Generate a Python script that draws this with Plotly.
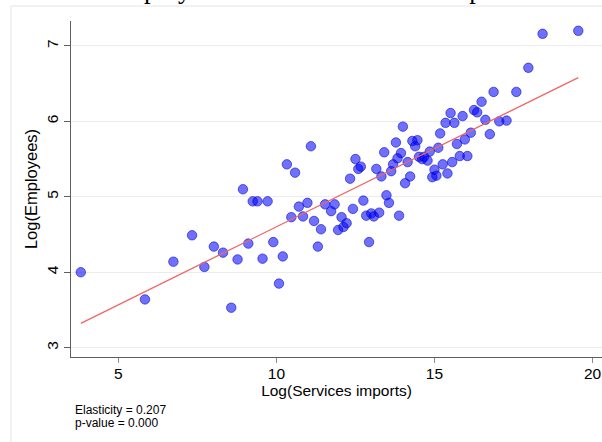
import plotly.graph_objects as go
import numpy as np

# Data
services_imports = [3.81, 5.84, 6.74, 7.33, 7.72, 8.02, 8.31, 8.57, 8.77, 8.94,
                    9.11, 9.25, 9.40, 9.56, 9.72, 9.90, 10.08, 10.20, 10.33, 10.47,
                    10.59, 10.71, 10.84, 10.98, 11.09, 11.19, 11.31, 11.41, 11.54, 11.73,
                    11.84, 11.95, 12.06, 12.12, 12.22, 12.33, 12.42, 12.50, 12.59, 12.67,
                    12.75, 12.84, 12.93, 13.00, 13.08, 13.16, 13.25, 13.32, 13.41, 13.48,
                    13.56, 13.63, 13.69, 13.78, 13.83, 13.88, 13.94, 14.00, 14.07, 14.15,
                    14.23, 14.30, 14.39, 14.46, 14.51, 14.61, 14.67, 14.78, 14.85, 14.93,
                    15.00, 15.06, 15.12, 15.18, 15.26, 15.35, 15.41, 15.51, 15.56, 15.63,
                    15.71, 15.80, 15.89, 15.96, 16.04, 16.15, 16.25, 16.35, 16.49, 16.61,
                    16.75, 16.87, 17.05, 17.28, 17.59, 17.97, 18.42, 19.55]
employees = [4.00, 3.64, 4.14, 4.49, 4.07, 4.34, 4.26, 3.53, 4.17, 5.10,
             4.38, 4.94, 4.94, 4.18, 4.94, 4.40, 3.85, 4.21, 5.43, 4.73,
             5.32, 4.87, 4.74, 4.92, 5.67, 4.68, 4.34, 4.57, 4.90, 4.81,
             4.90, 4.56, 4.73, 4.60, 4.65, 5.24, 4.84, 5.50, 5.37, 5.40,
             4.95, 4.75, 4.40, 4.78, 4.74, 5.37, 4.79, 5.27, 5.59, 5.02,
             4.92, 5.34, 5.43, 5.72, 5.51, 4.75, 5.58, 5.93, 5.18, 5.46,
             5.27, 5.74, 5.67, 5.75, 5.53, 5.50, 5.53, 5.48, 5.60, 5.26,
             5.36, 5.28, 5.65, 5.84, 5.43, 5.98, 5.31, 6.11, 5.46, 5.98,
             5.70, 5.54, 6.07, 5.76, 5.54, 5.85, 6.15, 6.12, 6.26, 6.02,
             5.83, 6.39, 6.00, 6.01, 6.39, 6.71, 7.16, 7.20]

elasticity = 0.207
intercept = 2.533
p_value = 0.000

x_ticks = [5, 10, 15, 20]
y_ticks = [3, 4, 5, 6, 7]

title_text = "Total employment and total services imports"
x_title = "Log(Services imports)"
y_title = "Log(Employees)"

fit_x = np.array([min(services_imports), max(services_imports)])
fit_y = intercept + elasticity * fit_x

W, H = 602, 442
L, R, T, B = 71, 0, 21, 85
pw, ph = W - L - R, H - T - B

def px_to_paper_x(px):
    return (px - L) / pw

def py_to_paper_y(py):
    return (H - B - py) / ph

fig = go.Figure()
fig.add_trace(go.Scatter(
    x=services_imports, y=employees, mode="markers",
    marker=dict(size=9.5, color="rgba(0,0,255,0.56)",
                line=dict(width=1, color="rgba(0,0,190,0.55)")),
    showlegend=False, hoverinfo="skip", cliponaxis=False))
fig.add_trace(go.Scatter(
    x=fit_x, y=fit_y, mode="lines",
    line=dict(color="#f06565", width=1.3),
    showlegend=False, hoverinfo="skip"))

font_family = "Liberation Sans, Arial, Helvetica, sans-serif"
axis_col = "#5e5e5e"

fig.update_layout(
    width=W, height=H,
    margin=dict(l=L, r=R, t=T, b=B, pad=0, autoexpand=False),
    paper_bgcolor="white", plot_bgcolor="white",
    font=dict(family=font_family, color="black"),
    xaxis=dict(range=[3.5, 20.3], tickvals=x_ticks, ticks="outside", ticklen=5,
               tickcolor="#8a8a8a", tickwidth=1, showgrid=False, zeroline=False,
               showline=True, linecolor=axis_col, linewidth=1.4, automargin=False,
               ticklabelstandoff=-3,
               tickfont=dict(size=15.5), title=dict(text=x_title, font=dict(size=15.5), standoff=0)),
    yaxis=dict(range=[2.877, 7.33], tickvals=y_ticks, ticks="outside", ticklen=6,
               tickcolor=axis_col, tickwidth=1, showgrid=True, gridcolor="#ececec",
               gridwidth=1, zeroline=False, showline=True, linecolor=axis_col,
               linewidth=1.4, tickangle=-90, tickfont=dict(size=15.5), automargin=False,
               title=dict(text=y_title, font=dict(size=16.5), standoff=1)),
)

# outer graph-region frame (partially visible)
fig.add_shape(type="line", xref="paper", yref="paper",
              x0=px_to_paper_x(11), x1=px_to_paper_x(620),
              y0=py_to_paper_y(6), y1=py_to_paper_y(6),
              line=dict(color="#e4e4e4", width=1))
fig.add_shape(type="line", xref="paper", yref="paper",
              x0=px_to_paper_x(11), x1=px_to_paper_x(11),
              y0=py_to_paper_y(6), y1=py_to_paper_y(460),
              line=dict(color="#e4e4e4", width=1))

# cut-off title at top
fig.add_annotation(text=title_text, xref="paper", yref="paper",
                   x=px_to_paper_x(286), y=py_to_paper_y(6),
                   xanchor="center", yanchor="bottom", showarrow=False,
                   font=dict(family="Liberation Serif, Times New Roman, serif", size=26.5, color="black"))

fig.add_annotation(text=f"Elasticity = {elasticity:.3f}", xref="paper", yref="paper",
                   x=px_to_paper_x(73), y=py_to_paper_y(410), xanchor="left", yanchor="middle",
                   showarrow=False, font=dict(size=12, color="black"))
fig.add_annotation(text=f"p-value = {p_value:.3f}", xref="paper", yref="paper",
                   x=px_to_paper_x(73), y=py_to_paper_y(422.5), xanchor="left", yanchor="middle",
                   showarrow=False, font=dict(size=12, color="black"))

fig.write_html("out.html", config={"displayModeBar": False},
               post_script="document.body.style.margin='0';document.body.style.overflow='hidden';")
